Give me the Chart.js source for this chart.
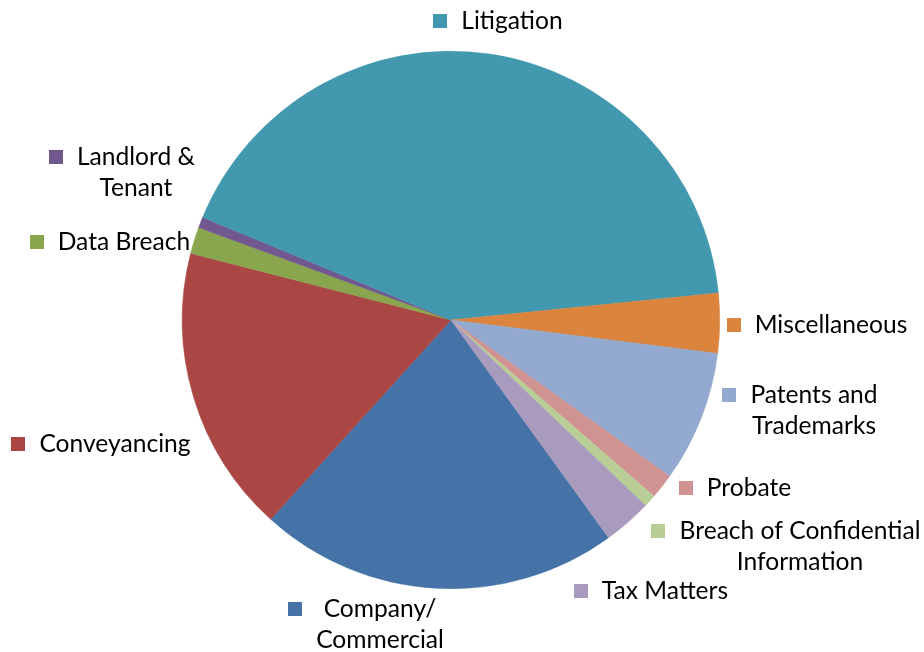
<!DOCTYPE html>
<html>
<head>
<meta charset="utf-8">
<script src="https://cdn.jsdelivr.net/npm/chart.js@4"></script>
<style>
  html, body { margin: 0; padding: 0; background: #fff; }
  canvas { display: block; }
</style>
</head>
<body>
<canvas id="pie" width="924" height="652"></canvas>
<script>
// categories in data order (clockwise from the Company slice)
const categories = [
  "Company/Commercial",
  "Conveyancing",
  "Data Breach",
  "Landlord & Tenant",
  "Litigation",
  "Miscellaneous",
  "Patents and Trademarks",
  "Probate",
  "Breach of Confidential Information",
  "Tax Matters"
];

// share of matters, percent
const shares = [21.7, 17.3, 1.6, 0.65, 42.2, 3.6, 7.9, 1.5, 0.75, 2.9];

// how each label wraps
const labelLines = [
  ["Company/", "Commercial"],
  ["Conveyancing"],
  ["Data Breach"],
  ["Landlord &", "Tenant"],
  ["Litigation"],
  ["Miscellaneous"],
  ["Patents and", "Trademarks"],
  ["Probate"],
  ["Breach of Confidential", "Information"],
  ["Tax Matters"]
];

const colors = [
  "#4573A7", "#AA4643", "#89A54E", "#71588F", "#4198AF",
  "#DB843D", "#93A9CF", "#D19392", "#B9CD96", "#A99BBD"
];

// label placement relative to the pie centre: text block centre x, first line centre y
const labelPos = [
  { dx: -71, dy: 289, gap: 22 },
  { dx: -336, dy: 124, gap: 14 },
  { dx: -327, dy: -78, gap: 14 },
  { dx: -315, dy: -163, gap: 14 },
  { dx: 61, dy: -299, gap: 14 },
  { dx: 380, dy: 5, gap: 14 },
  { dx: 363, dy: 75, gap: 14 },
  { dx: 298, dy: 168, gap: 14 },
  { dx: 349, dy: 211, gap: 15 },
  { dx: 214, dy: 271, gap: 14 }
];

const FONT = "24.6px Lato, 'Open Sans', sans-serif";
const LINE_H = 31;
const KEY = 14;

// draws the outside labels with a small colour key, Excel style
const outsideLabels = {
  id: "outsideLabels",
  afterDatasetsDraw(chart) {
    const ctx = chart.ctx;
    const meta = chart.getDatasetMeta(0);
    ctx.save();
    ctx.font = FONT;
    ctx.textBaseline = "middle";
    ctx.textAlign = "center";
    meta.data.forEach((arc, i) => {
      const p = labelPos[i];
      const cx = arc.x + p.dx;
      const cy = arc.y + p.dy;
      const lines = labelLines[i];
      lines.forEach((line, j) => {
        ctx.fillStyle = "#000";
        ctx.fillText(line, cx, cy + j * LINE_H);
      });
      const w = ctx.measureText(lines[0]).width;
      const left = cx - w / 2;
      ctx.fillStyle = colors[i];
      ctx.fillRect(Math.round(left - p.gap - KEY), Math.round(cy - KEY / 2), KEY, KEY);
    });
    ctx.restore();
  }
};

new Chart(document.getElementById("pie"), {
  type: "pie",
  data: {
    labels: categories,
    datasets: [{
      data: shares,
      backgroundColor: colors,
      borderColor: colors,
      borderWidth: 0.5
    }]
  },
  options: {
    responsive: false,
    devicePixelRatio: 1,
    animation: false,
    rotation: 144.1,
    layout: {
      padding: { left: 182, right: 204, top: 51, bottom: 63 }
    },
    plugins: {
      legend: { display: false },
      tooltip: { enabled: false }
    }
  },
  plugins: [outsideLabels]
});
</script>
</body>
</html>
